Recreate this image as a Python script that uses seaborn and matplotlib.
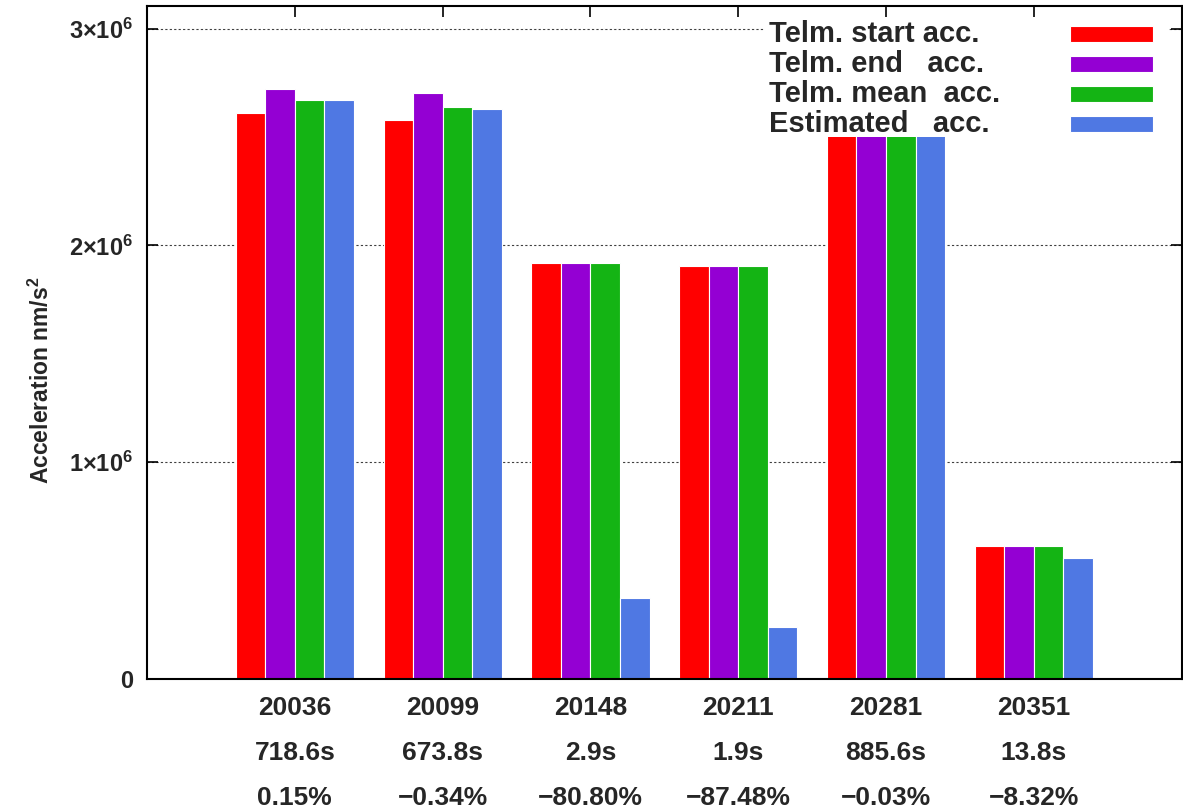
import pandas as pd
import matplotlib
matplotlib.use('Agg')
import matplotlib.pyplot as plt
import seaborn as sns
from matplotlib.patches import Rectangle
from matplotlib.ticker import FuncFormatter

# Data
orbits = ['20036', '20099', '20148', '20211', '20281', '20351']
durations = ['718.6s', '673.8s', '2.9s', '1.9s', '885.6s', '13.8s']
deviations = ['0.15%', '\u22120.34%', '\u221280.80%', '\u221287.48%', '\u22120.03%', '\u22128.32%']

series = ['Telm. start acc.', 'Telm. end   acc.', 'Telm. mean  acc.', 'Estimated   acc.']
colors = ['#ff0000', '#9400d3', '#14b414', '#4f78e3']

start_acc = [2.612e6, 2.577e6, 1.918e6, 1.906e6, 2.55e6, 0.612e6]
end_acc = [2.722e6, 2.703e6, 1.918e6, 1.906e6, 2.55e6, 0.612e6]
mean_acc = [2.671e6, 2.640e6, 1.918e6, 1.906e6, 2.55e6, 0.612e6]
est_acc = [2.671e6, 2.629e6, 0.374e6, 0.240e6, 2.55e6, 0.560e6]

# Long form table for seaborn
rows = []
for name, vals in zip(series, [start_acc, end_acc, mean_acc, est_acc]):
    for orb, v in zip(orbits, vals):
        rows.append({'orbit': orb, 'series': name, 'acc': v})
df = pd.DataFrame(rows)

sns.set_style('ticks')
plt.rcParams['font.family'] = ['Liberation Sans', 'DejaVu Sans']
plt.rcParams['mathtext.default'] = 'regular'

fig = plt.figure(figsize=(11.83, 8.11), dpi=100)
ax = fig.add_axes([0.1243, 0.1628, 0.8745, 0.8298])

sns.barplot(data=df, x='orbit', y='acc', hue='series', order=orbits, hue_order=series,
            palette=colors, saturation=1, edgecolor='white', linewidth=0.8,
            legend=False, ax=ax)

ax.set_xlim(-1, 6)
ax.set_ylim(0, 3.105e6)
ax.set_axisbelow(True)

# y axis
ax.set_yticks([0, 1e6, 2e6, 3e6])
ax.yaxis.set_major_formatter(FuncFormatter(
    lambda v, _: '0' if v == 0 else '$%d\u00d710^{6}$' % round(v / 1e6)))
ax.yaxis.grid(True, linestyle=(0, (2, 2)), color='0.25', linewidth=0.8)
ax.set_ylabel('Acceleration nm/s$^{2}$', fontsize=16.5, fontweight='bold')
ax.yaxis.set_label_coords(-0.0905, 0.444)

# x axis: three line labels
labels = ['%s\n%s\n%s' % t for t in zip(orbits, durations, deviations)]
ax.set_xticks(range(len(orbits)))
ax.set_xticklabels(labels, fontsize=19, fontweight='bold', linespacing=2.12)
ax.set_xlabel('')

ax.tick_params(direction='in', top=True, right=True, length=8, width=1.2, color='black')
ax.tick_params(axis='x', pad=12)
ax.tick_params(axis='y', labelsize=17, pad=10)
for t in ax.get_yticklabels():
    t.set_fontweight('bold')

for s in ax.spines.values():
    s.set_visible(True)
    s.set_color('black')
    s.set_linewidth(1.5)

# Legend, drawn as a white key box over the plot
ax.add_patch(Rectangle((0.597, 0.8053), 0.39, 0.179, transform=ax.transAxes,
                       facecolor='white', edgecolor='none', zorder=2.4))
row_y = [0.9584, 0.9138, 0.8692, 0.8246]
for name, col, y in zip(series, colors, row_y):
    ax.text(0.6014, y, name, transform=ax.transAxes, fontsize=21, fontweight='bold',
            ha='left', va='center', zorder=4)
    ax.add_patch(Rectangle((0.8919, y - 0.0119), 0.0801, 0.0238, transform=ax.transAxes,
                           facecolor=col, edgecolor='white', linewidth=0.8, zorder=4))

fig.savefig('out.png', dpi=100)
